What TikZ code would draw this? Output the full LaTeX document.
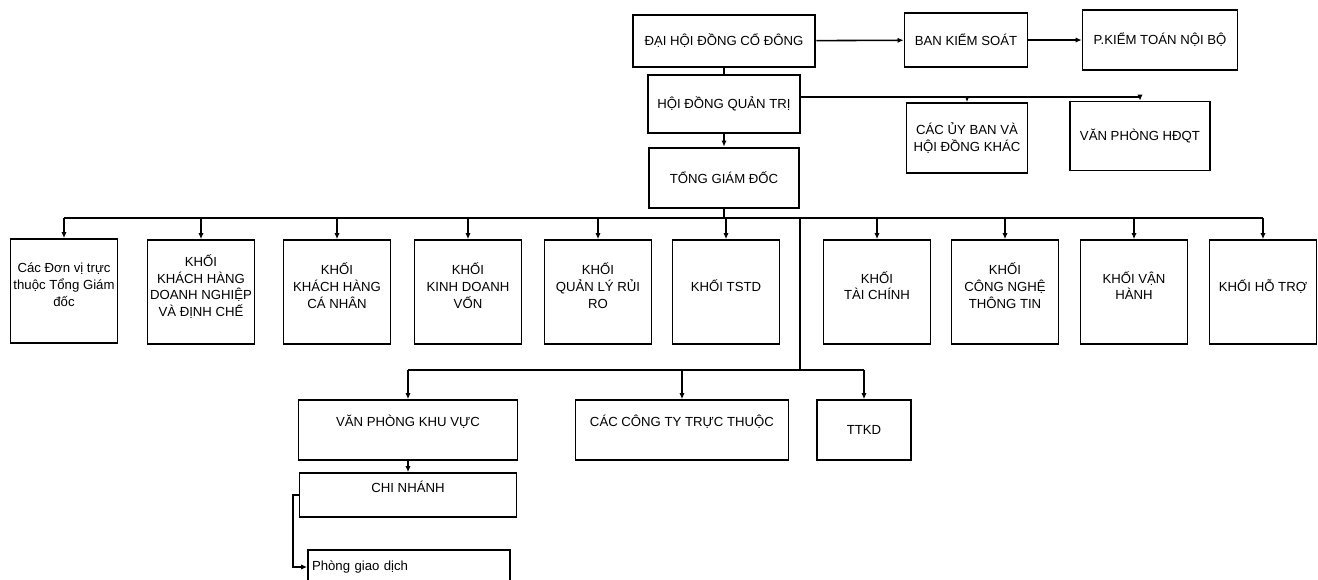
\documentclass[tikz,border=0pt]{standalone}
\usepackage{fontspec}
\setmainfont{Liberation Sans}
\usetikzlibrary{arrows.meta,positioning,calc}

\begin{document}
\begin{tikzpicture}[x=0.02cm, y=-0.02cm, >={Latex[length=3.5pt,width=3pt]}, line width=0.9pt, font=\fontsize{7.5}{9.5}\selectfont]
    \tikzstyle{unit} = [draw, rectangle, align=center, inner sep=1pt]
    \tikzstyle{head} = [unit, line width=1.5pt]
    \tikzstyle{khoi} = [unit, minimum width=2.14cm, minimum height=2.08cm, text depth=0.26cm]
    \tikzstyle{bus} = [line width=1.4pt]

    \useasboundingbox (0,0) rectangle (1318,579);
    \clip (0,0) rectangle (1318,579);

    \node [head, minimum width=3.64cm, minimum height=1.04cm] (dhcd) at (724,41) {ĐẠI HỘI ĐỒNG CỔ ĐÔNG};
    \node [unit, minimum width=2.46cm, minimum height=1.08cm] (bks) at (966,40) {BAN KIỂM SOÁT};
    \node [unit, minimum width=3.10cm, minimum height=1.20cm] (ktnb) at (1160,40) {P.KIỂM TOÁN NỘI BỘ};
    \node [head, minimum width=3.04cm, minimum height=1.16cm] (hdqt) at (724,104) {HỘI ĐỒNG QUẢN TRỊ};
    \node [unit, minimum width=2.42cm, minimum height=1.40cm] (uyban) at (967,138) {CÁC ỦY BAN VÀ\\HỘI ĐỒNG KHÁC};
    \node [unit, minimum width=2.80cm, minimum height=1.38cm] (vphdqt) at (1140,136) {VĂN PHÒNG HĐQT};
    \node [head, minimum width=3.00cm, minimum height=1.20cm] (tgd) at (724,178) {TỔNG GIÁM ĐỐC};

    \node [khoi] (k1) at (64,291) {Các Đơn vị trực\\thuộc Tổng Giám\\đốc};
    \node [khoi] (k2) at (201,292) {KHỐI\\KHÁCH HÀNG\\DOANH NGHIỆP\\VÀ ĐỊNH CHẾ};
    \node [khoi] (k3) at (337,292) {KHỐI\\KHÁCH HÀNG\\CÁ NHÂN};
    \node [khoi] (k4) at (468,292) {KHỐI\\KINH DOANH\\VỐN};
    \node [khoi] (k5) at (598,292) {KHỐI\\QUẢN LÝ RỦI\\RO};
    \node [khoi] (k6) at (726,292) {KHỐI TSTD};
    \node [khoi] (k7) at (877,292) {KHỐI\\TÀI CHÍNH};
    \node [khoi] (k8) at (1005,292) {KHỐI\\CÔNG NGHỆ\\THÔNG TIN};
    \node [khoi] (k9) at (1134,292) {KHỐI VẬN\\HÀNH};
    \node [khoi] (k10) at (1263,292) {KHỐI HỖ TRỢ};

    \node [unit, minimum width=4.38cm, minimum height=1.20cm, text depth=0.36cm] (vpkv) at (408,430) {VĂN PHÒNG KHU VỰC};
    \node [unit, minimum width=4.26cm, minimum height=1.20cm, text depth=0.36cm] (cct) at (682,430) {CÁC CÔNG TY TRỰC THUỘC};
    \node [unit, minimum width=1.88cm, minimum height=1.20cm] (ttkd) at (864,430) {TTKD};
    \node [unit, minimum width=4.34cm, minimum height=0.88cm, text depth=0.34cm] (cn) at (408,495) {CHI NHÁNH};
    \node [unit, minimum width=4.04cm, minimum height=0.68cm, align=left, inner xsep=0.08cm, text width=3.88cm] (pgd) at (409,567) {Phòng giao dịch};

    \coordinate (qt) at ([yshift=0.14cm]hdqt.east);
    \coordinate (bus) at (0,218);
    \coordinate (drop) at (800,218);
    \coordinate (bus2) at (800,370);

    \draw [->] (dhcd) -- (bks);
    \draw [->] (bks) -- (ktnb);
    \draw (dhcd) -- (hdqt);
    \draw [->] (hdqt) -- (tgd);
    \draw [->] (qt) -| (vphdqt);
    \draw [->] (qt -| uyban) -- (uyban);

    \draw (tgd) -- (tgd |- bus);
    \draw [bus] (k1 |- bus) -- (k10 |- bus);
    \foreach \k in {k1,k2,k3,k4,k5,k6,k7,k8,k9,k10}
        \draw [->] (\k |- bus) -- (\k);

    \draw (drop) -- (bus2);
    \draw (vpkv |- bus2) -- (ttkd |- bus2);
    \foreach \k in {vpkv,cct,ttkd}
        \draw [->] (\k |- bus2) -- (\k);
    \draw [->] (vpkv) -- (cn);
    \draw [->] (cn.west) -- ++(-6,0) |- (pgd.west);
\end{tikzpicture}
\end{document}
